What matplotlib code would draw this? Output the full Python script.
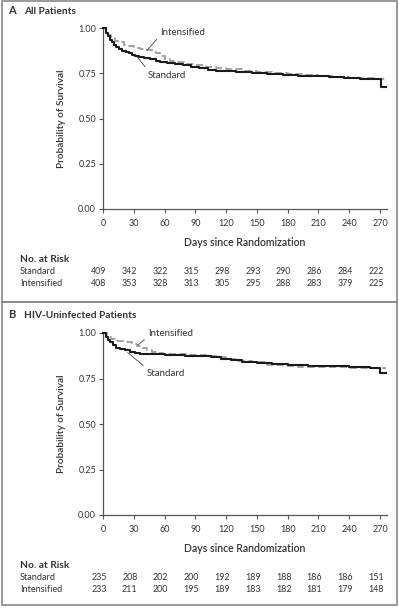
import matplotlib
matplotlib.use("Agg")
import matplotlib.pyplot as plt
import matplotlib.transforms as mtransforms
from matplotlib.patches import Rectangle

# ---------------- data ----------------
days_ticks = [0, 30, 60, 90, 120, 150, 180, 210, 240, 270]
y_ticks = [0.00, 0.25, 0.50, 0.75, 1.00]

a_std_t = [0, 3, 5, 7, 9, 11, 13, 16, 19, 22, 25, 28, 31, 35, 40, 46, 52, 56, 62, 70, 78, 86, 94, 102,
           110, 118, 130, 145, 160, 175, 190, 205, 220, 235, 250, 262, 271, 276]
a_std_s = [1.0, 0.975, 0.955, 0.935, 0.92, 0.905, 0.895, 0.885, 0.875, 0.868, 0.86, 0.852, 0.843, 0.838,
           0.832, 0.826, 0.815, 0.81, 0.807, 0.80, 0.793, 0.785, 0.778, 0.77, 0.765, 0.76, 0.757, 0.752,
           0.745, 0.74, 0.737, 0.733, 0.728, 0.724, 0.72, 0.716, 0.672, 0.672]
a_int_t = [0, 3, 5, 8, 12, 16, 20, 25, 30, 36, 42, 48, 52, 56, 60, 65, 72, 80, 90, 100, 110, 120, 135,
           150, 165, 180, 195, 210, 225, 240, 255, 268, 276]
a_int_s = [1.0, 0.98, 0.96, 0.945, 0.93, 0.92, 0.908, 0.898, 0.89, 0.884, 0.878, 0.87, 0.86, 0.845, 0.83,
           0.815, 0.81, 0.803, 0.795, 0.787, 0.779, 0.772, 0.765, 0.757, 0.75, 0.744, 0.739, 0.734, 0.73,
           0.726, 0.722, 0.718, 0.718]

b_std_t = [0, 3, 5, 7, 10, 13, 17, 21, 26, 31, 36, 40, 60, 70, 80, 95, 105, 115, 125, 135, 150, 165, 180,
           200, 220, 240, 260, 270, 276]
b_std_s = [1.0, 0.98, 0.96, 0.95, 0.935, 0.92, 0.912, 0.906, 0.896, 0.888, 0.884, 0.883, 0.88, 0.877,
           0.875, 0.872, 0.868, 0.858, 0.85, 0.843, 0.835, 0.83, 0.824, 0.82, 0.816, 0.812, 0.808, 0.778, 0.778]
b_int_t = [0, 4, 8, 12, 20, 28, 33, 38, 43, 48, 53, 58, 70, 85, 100, 110, 120, 130, 145, 160, 175, 190,
           205, 220, 240, 260, 276]
b_int_s = [1.0, 0.98, 0.965, 0.955, 0.952, 0.94, 0.928, 0.915, 0.905, 0.898, 0.89, 0.885, 0.882, 0.878,
           0.873, 0.866, 0.857, 0.848, 0.838, 0.826, 0.818, 0.815, 0.813, 0.812, 0.81, 0.805, 0.805]

a_risk_std = [409, 342, 322, 315, 298, 293, 290, 286, 284, 222]
a_risk_int = [408, 353, 328, 313, 305, 295, 288, 283, 379, 225]
b_risk_std = [235, 208, 202, 200, 192, 189, 188, 186, 186, 151]
b_risk_int = [233, 211, 200, 195, 189, 183, 182, 181, 179, 148]

# ---------------- style ----------------
plt.rcParams['font.family'] = ['Lato', 'DejaVu Sans']
TXT = '#333333'
AX = '#555555'
W, H = 399, 610
fig = plt.figure(figsize=(W / 100, H / 100), dpi=100)


def fx(px):
    return px / W


def fy(py):
    return 1 - py / H


# panel borders
for top, bot in [(1, 302), (302, 605)]:
    fig.patches.append(Rectangle((fx(1.5), fy(bot)), fx(395), fy(top) - fy(bot),
                                 transform=fig.transFigure, fill=False, edgecolor='#888888', lw=1.2))


def panel(letter, title, title_y, ax_top, ax_bot, std_t, std_s, int_t, int_s,
          risk_std, risk_int, int_lab, int_tip, std_lab, std_tip):
    left, right = 103, 387
    ax = fig.add_axes([fx(left), fy(ax_bot), fx(right - left), fy(ax_top) - fy(ax_bot)])
    ax.set_xlim(0, (right - left) / 1.026)
    ax.set_ylim(0, 1.0)
    for s in ['top', 'right']:
        ax.spines[s].set_visible(False)
    for s in ['left', 'bottom']:
        ax.spines[s].set_color(AX)
        ax.spines[s].set_linewidth(0.9)
    ax.set_xticks(days_ticks)
    ax.set_yticks(y_ticks)
    ax.set_yticklabels([f"{v:.2f}" for v in y_ticks])
    ax.tick_params(direction='out', length=3, width=0.8, color=AX, labelsize=6.5, labelcolor=TXT, pad=2)
    ax.tick_params(axis='x', pad=4)
    ax.set_ylabel('Probability of Survival', fontsize=7.3, color=TXT, fontweight='semibold', labelpad=9)
    ax.set_xlabel('Days since Randomization', fontsize=7.6, color=TXT, fontweight='semibold', labelpad=7)

    ax.plot(int_t, int_s, drawstyle='steps-post', color='#9c9c9c', lw=1.3, ls=(0, (4, 2)), clip_on=False, zorder=3)
    ax.plot(std_t, std_s, drawstyle='steps-post', color='#1a1a1a', lw=1.5, clip_on=False, zorder=4)

    ax.annotate('Intensified', xy=int_tip, xytext=int_lab, textcoords='data', fontsize=7, color=TXT,
                ha='left', va='center',
                arrowprops=dict(arrowstyle='-', lw=0.6, color='#444444', relpos=(0, 0.2),
                                shrinkA=1, shrinkB=0))
    ax.annotate('Standard', xy=std_tip, xytext=std_lab, textcoords='data', fontsize=7, color=TXT,
                ha='left', va='center',
                arrowprops=dict(arrowstyle='-', lw=0.6, color='#444444', relpos=(0.02, 0.9),
                                shrinkA=1, shrinkB=0))

    # titles
    fig.text(fx(8), fy(title_y), letter, fontsize=8, fontweight='bold', color=TXT, va='center', ha='left')
    fig.text(fx(24), fy(title_y), title, fontsize=7.3, fontweight='bold', color=TXT, va='center', ha='left')

    # risk table
    base = ax_bot
    fig.text(fx(20), fy(base + 51), 'No. at Risk', fontsize=7.3, fontweight='bold', color=TXT, va='center')
    fig.text(fx(20), fy(base + 63), 'Standard', fontsize=6.6, color=TXT, va='center')
    fig.text(fx(20), fy(base + 74), 'Intensified', fontsize=6.6, color=TXT, va='center')
    tr = mtransforms.blended_transform_factory(ax.transData, fig.transFigure)
    tr = mtransforms.offset_copy(tr, fig=fig, x=-4, y=0, units='dots')
    for d, a, b in zip(days_ticks, risk_std, risk_int):
        fig.text(d, fy(base + 63), str(a), transform=tr, fontsize=6.4, color=TXT, ha='center', va='center')
        fig.text(d, fy(base + 74), str(b), transform=tr, fontsize=6.4, color=TXT, ha='center', va='center')
    return ax


panel('A', 'All Patients', 11, 28, 209, a_std_t, a_std_s, a_int_t, a_int_s, a_risk_std, a_risk_int,
      int_lab=(56, 0.975), int_tip=(43, 0.878), std_lab=(44, 0.74), std_tip=(33, 0.842))
panel('B', 'HIV-Uninfected Patients', 315, 333, 515, b_std_t, b_std_s, b_int_t, b_int_s, b_risk_std, b_risk_int,
      int_lab=(44, 0.995), int_tip=(34, 0.934), std_lab=(43, 0.78), std_tip=(24, 0.893))

fig.savefig('out.png', dpi=100)
